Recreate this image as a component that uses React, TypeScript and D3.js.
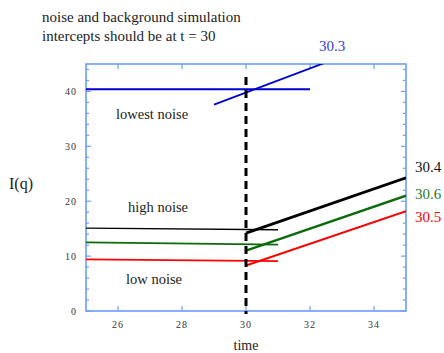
import React from 'react';
import * as d3 from 'd3';

// values
const xTicks = [26, 28, 30, 32, 34];
const yTicks = [0, 10, 20, 30, 40];
const yMinorTicks = d3.range(0, 46, 2);

const flatTime = [25, 31];
const blueFlatTime = [25, 32];
const blueFlat = [40.4, 40.4];
const blackFlat = [15.1, 14.8];
const greenFlat = [12.5, 12.1];
const redFlat = [9.4, 9.1];

const blueRiseTime = [29, 33];
const blueRise = [37.6, 46.4];
const riseTime = [30, 35];
const blackRise = [14.2, 24.25];
const greenRise = [11.0, 21.0];
const redRise = [8.3, 18.2];

const intercepts = ['30.3', '30.4', '30.6', '30.5'];

const W = 444, H = 353;
const margin = { top: 64, right: 38, bottom: 42, left: 86 };

export default function App() {
  const x = d3.scaleLinear().domain([25, 35]).range([margin.left, W - margin.right]);
  const y = d3.scaleLinear().domain([0, 45]).range([H - margin.bottom, margin.top]);
  const line = (ts: number[], vs: number[]) =>
    d3.line<number>().x((_, i) => x(ts[i])).y(d => y(d))(vs) || '';

  const axisColor = '#6f9cff';
  const serif = '"Liberation Serif", "Times New Roman", serif';
  const [x0, x1] = x.range();
  const [y0, y1] = y.range();

  const series = [
    { t: blueFlatTime, v: blueFlat, c: '#0000cc', w: 2 },
    { t: blueRiseTime, v: blueRise, c: '#0000cc', w: 1.8 },
    { t: flatTime, v: blackFlat, c: '#000000', w: 1.4 },
    { t: flatTime, v: greenFlat, c: '#0b6b0b', w: 1.8 },
    { t: flatTime, v: redFlat, c: '#ff0000', w: 1.8 },
    { t: riseTime, v: blackRise, c: '#000000', w: 2.8 },
    { t: riseTime, v: greenRise, c: '#0b6b0b', w: 2.4 },
    { t: riseTime, v: redRise, c: '#ff0000', w: 2 },
  ];

  return (
    <svg width={W} height={H} style={{ position: 'absolute', left: 0, top: 0, background: '#fff' }}>
      <defs>
        <clipPath id="plot">
          <rect x={x0} y={y1} width={x1 - x0} height={y0 - y1} />
        </clipPath>
      </defs>

      <text x={42} y={22} fontFamily={serif} fontSize={15} fill="#222">noise and background simulation</text>
      <text x={42} y={41} fontFamily={serif} fontSize={15} fill="#222">intercepts should be at t = 30</text>

      {/* frame */}
      <rect x={x0} y={y1} width={x1 - x0} height={y0 - y1} fill="none" stroke={axisColor} strokeWidth={1.6} />
      {yMinorTicks.map(v => {
        const len = v % 10 === 0 ? 5 : 3;
        return (
          <g key={'y' + v} stroke={axisColor} strokeWidth={1.2}>
            <line x1={x0} x2={x0 + len} y1={y(v)} y2={y(v)} />
            <line x1={x1} x2={x1 - len} y1={y(v)} y2={y(v)} />
          </g>
        );
      })}
      {xTicks.map(v => (
        <g key={'x' + v} stroke={axisColor} strokeWidth={1.2}>
          <line x1={x(v)} x2={x(v)} y1={y0} y2={y0 - 5} />
          <line x1={x(v)} x2={x(v)} y1={y1} y2={y1 + 5} />
        </g>
      ))}
      {yTicks.map(v => (
        <text key={'yl' + v} x={x0 - 9} y={y(v) + 4} textAnchor="end" fontFamily={serif}
          fontSize={10} letterSpacing={1} fill="#333">{v}</text>
      ))}
      {xTicks.map(v => (
        <text key={'xl' + v} x={x(v)} y={y0 + 17} textAnchor="middle" fontFamily={serif}
          fontSize={10} letterSpacing={1} fill="#333">{v}</text>
      ))}

      <g clipPath="url(#plot)" fill="none" strokeLinecap="butt">
        {series.map((s, i) => (
          <path key={i} d={line(s.t, s.v)} stroke={s.c} strokeWidth={s.w} />
        ))}
      </g>

      {/* t = 30 marker */}
      <line x1={x(30)} x2={x(30)} y1={77} y2={y0 + 3} stroke="#000" strokeWidth={3}
        strokeDasharray="8,5" />

      <text x={116} y={119} fontFamily={serif} fontSize={14.5} fill="#222">lowest noise</text>
      <text x={128} y={212} fontFamily={serif} fontSize={14.5} fill="#222">high noise</text>
      <text x={126} y={284} fontFamily={serif} fontSize={14.5} fill="#222">low noise</text>

      <text x={319} y={51} fontFamily={serif} fontSize={15} fill="#3a3aee">{intercepts[0]}</text>
      <text x={415} y={172} fontFamily={serif} fontSize={15} fill="#111">{intercepts[1]}</text>
      <text x={415} y={199} fontFamily={serif} fontSize={15} fill="#2a7a2a">{intercepts[2]}</text>
      <text x={415} y={222} fontFamily={serif} fontSize={15} fill="#ff0000">{intercepts[3]}</text>

      <text x={21} y={189} textAnchor="middle" fontFamily={serif} fontSize={16} fill="#222">I(q)</text>
      <text x={x(30)} y={350} textAnchor="middle" fontFamily={serif} fontSize={14} fill="#222">time</text>
    </svg>
  );
}
